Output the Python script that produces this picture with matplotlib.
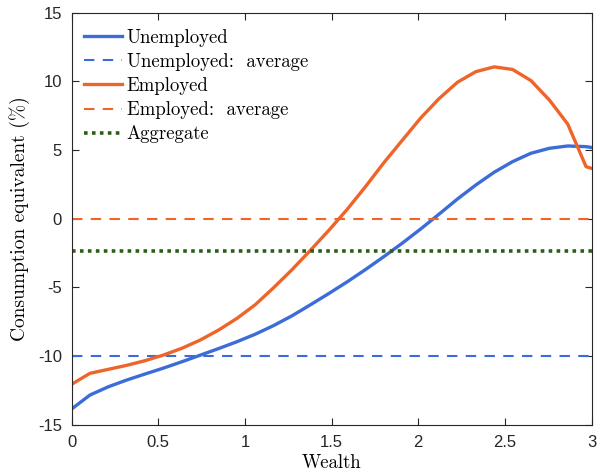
import numpy as np
import matplotlib
matplotlib.use("Agg")
import matplotlib.pyplot as plt

# ---- data ----
wealth = [0.106 * k for k in range(30)]
unemployed = [-13.85, -12.83, -12.23, -11.74, -11.30, -10.87, -10.41, -9.93, -9.45, -8.95,
              -8.40, -7.77, -7.06, -6.26, -5.44, -4.59, -3.69, -2.75, -1.77, -0.74,
              0.34, 1.44, 2.46, 3.39, 4.16, 4.77, 5.13, 5.30, 5.25, 5.05]
employed = [-12.05, -11.25, -10.96, -10.67, -10.33, -9.92, -9.43, -8.83, -8.10, -7.25,
            -6.25, -5.01, -3.70, -2.29, -0.84, 0.69, 2.35, 4.09, 5.72, 7.34,
            8.75, 9.94, 10.71, 11.06, 10.87, 10.06, 8.65, 6.90, 3.79, 3.40]
unemployed_avg = -10.0
employed_avg = 0.0
aggregate = -2.33
xticks = [0, 0.5, 1, 1.5, 2, 2.5, 3]
yticks = [-15, -10, -5, 0, 5, 10, 15]

plt.rcParams['axes.unicode_minus'] = False
plt.rcParams['axes.formatter.use_mathtext'] = True
plt.rcParams['font.family'] = ['Liberation Sans', 'DejaVu Sans']

c_blue = '#3b6cd8'
c_orange = '#ef6529'
c_green = '#2d5e16'

fig = plt.figure(figsize=(5.97, 4.72), dpi=100)
ax = fig.add_axes([0.120, 0.100, 0.871, 0.873])

lw = 2.4
ax.plot(wealth, unemployed, color=c_blue, lw=lw, label='Unemployed')
ax.axhline(unemployed_avg, color=c_blue, lw=1.5, ls=(0, (5, 4)),
           label='Unemployed:  average')
ax.plot(wealth, employed, color=c_orange, lw=lw, label='Employed')
ax.axhline(employed_avg, color=c_orange, lw=1.5, ls=(0, (5, 4)),
           label='Employed:  average')
ax.axhline(aggregate, color=c_green, lw=2.6, ls=(0, (1, 1.2)),
           label='Aggregate')

ax.set_xlim(0, 3)
ax.set_ylim(-15, 15)
ax.set_xticks(xticks)
ax.set_xticklabels([f'{t:g}' for t in xticks])
ax.set_yticks(yticks)
ax.set_yticklabels([f'{t:g}' for t in yticks])

ax.tick_params(direction='in', length=5, width=0.8, top=True, right=True,
               labelsize=12, colors='#262626', pad=7)
for s in ax.spines.values():
    s.set_color('#262626')
    s.set_linewidth(0.8)

serif = {'family': 'cmr10'}
ax.set_xlabel('Wealth', fontsize=13.5, labelpad=3, fontdict=serif)
ax.set_ylabel('Consumption equivalent (%)', fontsize=14, labelpad=6, fontdict=serif)

leg = ax.legend(loc='upper left', frameon=False, bbox_to_anchor=(-0.006, 1.0),
                prop={'family': 'cmr10', 'size': 13.5},
                handlelength=2.0, handletextpad=0.25, labelspacing=0.33,
                borderaxespad=0.45, borderpad=0.4)

fig.savefig('out.png', dpi=100)
